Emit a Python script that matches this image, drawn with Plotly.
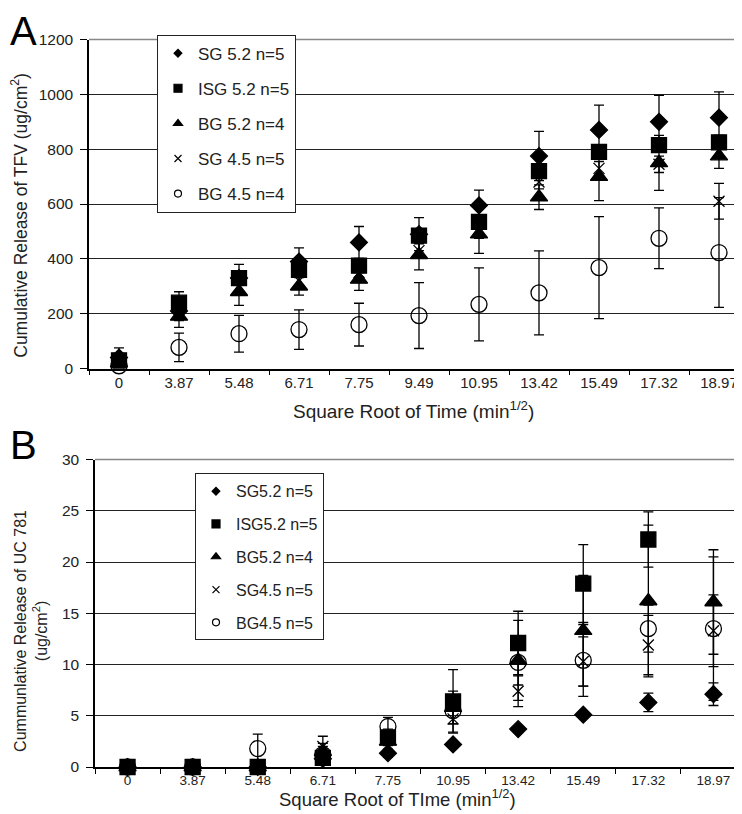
import plotly.graph_objects as go

# ---------------- Panel A data (TFV) ----------------
cats_a = ["0", "3.87", "5.48", "6.71", "7.75", "9.49", "10.95", "13.42", "15.49", "17.32", "18.97"]
a_sg52 = [40, 210, 330, 390, 460, 490, 595, 775, 870, 900, 915]
a_sg52_err = [35, 30, 50, 50, 58, 60, 56, 90, 91, 96, 94]
a_isg52 = [30, 240, 330, 360, 375, 485, 535, 720, 790, 815, 825]
a_isg52_err = [20, 40, 25, 25, 25, 25, 25, 25, 25, 25, 25]
a_bg52 = [20, 190, 280, 300, 325, 415, 490, 625, 700, 750, 775]
a_bg52_err = [15, 40, 50, 32, 40, 55, 70, 45, 88, 100, 45]
a_sg45 = [20, 200, 295, 320, 350, 430, 500, 680, 730, 745, 610]
a_sg45_err = [15, 25, 25, 25, 25, 25, 25, 25, 25, 30, 65]
a_bg45 = [10, 77, 127, 142, 160, 193, 234, 276, 368, 475, 423]
a_bg45_err = [10, 52, 67, 72, 78, 120, 133, 153, 186, 111, 200]
names_a = ["SG 5.2 n=5", "ISG 5.2 n=5", "BG 5.2 n=4", "SG 4.5 n=5", "BG 4.5 n=4"]

# ---------------- Panel B data (UC 781) ----------------
cats_b = ["0", "3.87", "5.48", "6.71", "7.75", "10.95", "13.42", "15.49", "17.32", "18.97"]
b_sg52 = [0, 0, 0, 0.8, 1.35, 2.2, 3.7, 5.1, 6.3, 7.1]
b_sg52_err = [0, 0, 0, 0.3, 0.4, 0.3, 0.3, 0.3, 0.9, 1.1]
b_isg52 = [0, 0, 0, 0.9, 2.9, 6.4, 12.1, 17.9, 22.2, None]
b_isg52_err = [0, 0, 0, 0.5, 0.8, 3.1, 3.1, 3.8, 2.7, 0]
b_bg52 = [0, 0, 0, 1.5, 2.5, 5.8, 10.4, 13.3, 16.2, 16.1]
b_bg52_err = [0, 0, 0, 0.8, 0.8, 1.6, 3.9, 5.4, 7.4, 5.1]
b_sg45 = [0, 0, 0, 2.0, 2.0, 4.7, 7.4, 10.3, 11.9, 13.3]
b_sg45_err = [0, 0, 0, 1.0, 0.8, 1.3, 1.5, 2.4, 2.9, 3.5]
b_bg45 = [0, 0, 1.8, 1.2, 3.95, 5.5, 10.2, 10.4, 13.5, 13.5]
b_bg45_err = [0, 0, 1.4, 0.8, 0.9, 1.3, 2.2, 3.5, 2.3, 7.0]
names_b = ["SG5.2 n=5", "ISG5.2 n=5", "BG5.2 n=4", "SG4.5 n=5", "BG4.5 n=5"]

FONT = "Liberation Sans, Arial, sans-serif"
symbols = ["diamond", "square", "triangle-up", "x-thin", "circle-open"]
sizes = [13, 15, 15, 11, 16]
leg_sizes = [6, 8, 8, 7, 7]

fig = go.Figure()


def add_panel(cats, series, errs, names, xa, ya, legend):
    for i, (vals, err) in enumerate(zip(series, errs)):
        fig.add_trace(go.Scatter(
            x=cats, y=vals, mode="markers", xaxis=xa, yaxis=ya,
            showlegend=False, cliponaxis=False,
            marker=dict(symbol=symbols[i], size=sizes[i], color="black",
                        line=dict(color="black", width=1.3)),
            error_y=dict(type="data", array=err, symmetric=True,
                         color="black", thickness=1.3, width=5),
        ))
    for i, nm in enumerate(names):
        fig.add_trace(go.Scatter(
            x=[None], y=[None], mode="markers", xaxis=xa, yaxis=ya,
            name=nm, legend=legend, legendgroup=legend + str(i),
            marker=dict(symbol=symbols[i], size=leg_sizes[i], color="black",
                        line=dict(color="black", width=1.2)),
        ))


add_panel(cats_a, [a_sg52, a_isg52, a_bg52, a_sg45, a_bg45],
          [a_sg52_err, a_isg52_err, a_bg52_err, a_sg45_err, a_bg45_err],
          names_a, "x", "y", "legend")
add_panel(cats_b, [b_sg52, b_isg52, b_bg52, b_sg45, b_bg45],
          [b_sg52_err, b_isg52_err, b_bg52_err, b_sg45_err, b_bg45_err],
          names_b, "x2", "y2", "legend2")

W, H = 742, 814
dom_ax = [81 / W, 741 / W]
dom_ay = [1 - 359 / H, 1 - 23 / H]
dom_bx = [87 / W, 738 / W]
dom_by = [1 - 766 / H, 1 - 452 / H]

xcommon = dict(type="category", showgrid=False, showline=True, linecolor="black",
               linewidth=1.5, ticks="outside", tickson="boundaries", ticklen=5,
               tickcolor="black", zeroline=False, fixedrange=True)
ycommon = dict(showgrid=True, gridcolor="#222", gridwidth=1.2, showline=True,
               linecolor="black", linewidth=1.5, ticks="outside", ticklen=7,
               tickcolor="black", zeroline=False, fixedrange=True,
               ticklabelstandoff=4)

fig.update_layout(
    width=W, height=H, margin=dict(l=0, r=0, t=0, b=0),
    paper_bgcolor="white", plot_bgcolor="white",
    font=dict(family=FONT, color="#222"),
    xaxis=dict(xcommon, domain=dom_ax, anchor="y", categoryarray=cats_a,
               categoryorder="array", range=[-0.5, 10.5],
               tickfont=dict(size=15, family=FONT)),
    yaxis=dict(ycommon, domain=dom_ay, anchor="x", range=[0, 1200], dtick=200,
               tickfont=dict(size=15.5, family=FONT)),
    xaxis2=dict(xcommon, domain=dom_bx, anchor="y2", categoryarray=cats_b,
                categoryorder="array", range=[-0.5, 9.5],
                tickfont=dict(size=13.5, family=FONT)),
    yaxis2=dict(ycommon, domain=dom_by, anchor="x2", range=[0, 30], dtick=5,
                tickfont=dict(size=15.5, family=FONT)),
    legend=dict(x=149 / W, y=1 - 18 / H, xanchor="left", yanchor="top",
                bgcolor="white", bordercolor="#222", borderwidth=1,
                font=dict(size=17, family=FONT, color="#222"),
                tracegroupgap=10, itemwidth=30, itemsizing="trace"),
    legend2=dict(x=187 / W, y=1 - 466 / H, xanchor="left", yanchor="top",
                 bgcolor="white", bordercolor="#222", borderwidth=1,
                 font=dict(size=16, family=FONT, color="#222"),
                 tracegroupgap=9, itemwidth=30, itemsizing="trace"),
)

# gray top / right borders of the plot areas
for xd, yd in [("x domain", "y domain"), ("x2 domain", "y2 domain")]:
    fig.add_shape(type="line", xref=xd, yref=yd, x0=0, x1=1, y0=1, y1=1,
                  line=dict(color="#888", width=1.5), layer="below")
    fig.add_shape(type="line", xref=xd, yref=yd, x0=1, x1=1, y0=0, y1=1,
                  line=dict(color="#888", width=1.5), layer="below")

ann = [
    dict(text="A", x=0, y=1 + 10 / H, xanchor="left", yanchor="top",
         font=dict(size=40, family=FONT, color="black")),
    dict(text="B", x=0, y=1 - 413 / H, xanchor="left", yanchor="top",
         font=dict(size=40, family=FONT, color="black")),
    dict(text="Square Root of Time (min<sup>1/2</sup>)", x=405 / W, y=1 - 401 / H,
         xanchor="center", yanchor="middle", font=dict(size=19, family=FONT, color="#222")),
    dict(text="Cumulative Release of TFV (ug/cm<sup>2</sup>)", x=11 / W, y=1 - 203 / H,
         xanchor="center", yanchor="middle", textangle=-90,
         font=dict(size=17.5, family=FONT, color="#222")),
    dict(text="Square Root of TIme (min<sup>1/2</sup>)", x=390 / W, y=1 - 798 / H,
         xanchor="center", yanchor="middle", font=dict(size=18.5, family=FONT, color="#222")),
    dict(text="Cummunlative Release of UC 781<br>(ug/cm<sup>2</sup>)", x=23 / W, y=1 - 627 / H,
         xanchor="center", yanchor="middle", textangle=-90,
         font=dict(size=16, family=FONT, color="#222")),
]
for a in ann:
    fig.add_annotation(xref="paper", yref="paper", showarrow=False, **a)

fig.write_html("out.html")
